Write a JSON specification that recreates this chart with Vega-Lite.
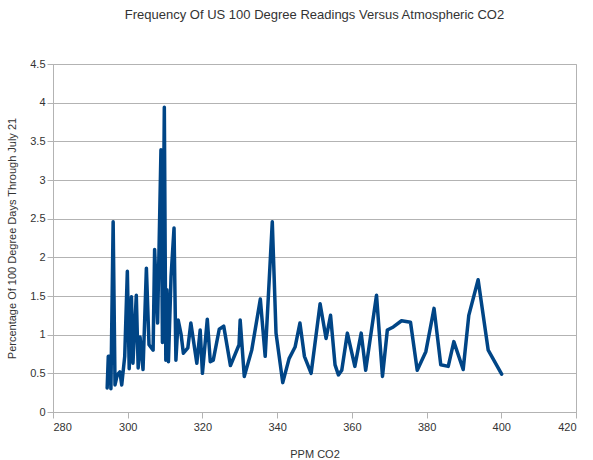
{
  "$schema": "https://vega.github.io/schema/vega-lite/v6.json",
  "autosize": {"type": "none"},
  "width": 523,
  "height": 348,
  "padding": {"left": 53, "top": 64, "right": 17, "bottom": 48},
  "background": "white",
  "title": {
    "text": "Frequency Of US 100 Degree Readings Versus Atmospheric CO2",
    "font": "Liberation Sans",
    "fontSize": 13,
    "fontWeight": "normal",
    "color": "#333333",
    "offset": 36
  },
  "config": {
    "view": {"stroke": "#b3b3b3", "strokeWidth": 1},
    "axis": {
      "labelFont": "Liberation Sans",
      "labelFontSize": 11,
      "labelColor": "#333333",
      "titleFont": "Liberation Sans",
      "titleFontSize": 11,
      "titleFontWeight": "normal",
      "titleColor": "#333333",
      "domainColor": "#b3b3b3",
      "tickColor": "#b3b3b3",
      "gridColor": "#b3b3b3",
      "tickSize": 6
    }
  },
  "data": {
    "values": [
      {"ppm": 294.5, "pct": 0.31},
      {"ppm": 294.8, "pct": 0.72},
      {"ppm": 295.3, "pct": 0.72},
      {"ppm": 295.5, "pct": 0.30},
      {"ppm": 296.1, "pct": 2.46},
      {"ppm": 296.6, "pct": 0.35},
      {"ppm": 297.2, "pct": 0.48},
      {"ppm": 297.9, "pct": 0.52},
      {"ppm": 298.4, "pct": 0.35},
      {"ppm": 299.2, "pct": 0.72},
      {"ppm": 299.9, "pct": 1.82},
      {"ppm": 300.4, "pct": 0.56},
      {"ppm": 301.0, "pct": 1.49},
      {"ppm": 301.4, "pct": 0.63},
      {"ppm": 302.3, "pct": 1.51},
      {"ppm": 302.8, "pct": 0.57},
      {"ppm": 303.3, "pct": 0.97},
      {"ppm": 304.1, "pct": 0.55},
      {"ppm": 305.0, "pct": 1.86},
      {"ppm": 305.7, "pct": 0.87},
      {"ppm": 306.8, "pct": 0.80},
      {"ppm": 307.2, "pct": 2.10},
      {"ppm": 308.0, "pct": 1.15},
      {"ppm": 308.9, "pct": 3.39},
      {"ppm": 309.3, "pct": 0.90},
      {"ppm": 309.8, "pct": 3.94},
      {"ppm": 310.2, "pct": 0.67},
      {"ppm": 310.5, "pct": 1.58},
      {"ppm": 310.9, "pct": 0.65},
      {"ppm": 311.6, "pct": 1.75},
      {"ppm": 312.4, "pct": 2.38},
      {"ppm": 312.9, "pct": 0.67},
      {"ppm": 313.5, "pct": 1.19},
      {"ppm": 314.3, "pct": 1.00},
      {"ppm": 314.9, "pct": 0.76},
      {"ppm": 316.1, "pct": 0.83},
      {"ppm": 316.9, "pct": 1.15},
      {"ppm": 318.5, "pct": 0.63},
      {"ppm": 319.4, "pct": 1.06},
      {"ppm": 320.0, "pct": 0.50},
      {"ppm": 321.3, "pct": 1.20},
      {"ppm": 322.1, "pct": 0.65},
      {"ppm": 322.9, "pct": 0.67},
      {"ppm": 324.5, "pct": 1.07},
      {"ppm": 325.7, "pct": 1.11},
      {"ppm": 327.5, "pct": 0.60},
      {"ppm": 329.8, "pct": 0.87},
      {"ppm": 330.1, "pct": 1.19},
      {"ppm": 331.2, "pct": 0.46},
      {"ppm": 333.2, "pct": 0.80},
      {"ppm": 335.5, "pct": 1.46},
      {"ppm": 336.8, "pct": 0.72},
      {"ppm": 338.7, "pct": 2.46},
      {"ppm": 339.7, "pct": 1.02},
      {"ppm": 341.5, "pct": 0.38},
      {"ppm": 343.2, "pct": 0.69},
      {"ppm": 344.8, "pct": 0.84},
      {"ppm": 346.1, "pct": 1.15},
      {"ppm": 347.3, "pct": 0.72},
      {"ppm": 349.1, "pct": 0.50},
      {"ppm": 351.5, "pct": 1.40},
      {"ppm": 353.1, "pct": 0.95},
      {"ppm": 354.3, "pct": 1.25},
      {"ppm": 355.5, "pct": 0.61},
      {"ppm": 356.4, "pct": 0.48},
      {"ppm": 357.3, "pct": 0.54},
      {"ppm": 358.8, "pct": 1.02},
      {"ppm": 360.8, "pct": 0.59},
      {"ppm": 362.5, "pct": 1.02},
      {"ppm": 363.7, "pct": 0.54},
      {"ppm": 366.6, "pct": 1.51},
      {"ppm": 368.2, "pct": 0.46},
      {"ppm": 369.5, "pct": 1.06},
      {"ppm": 371.1, "pct": 1.10},
      {"ppm": 373.3, "pct": 1.18},
      {"ppm": 375.7, "pct": 1.16},
      {"ppm": 377.5, "pct": 0.54},
      {"ppm": 379.8, "pct": 0.78},
      {"ppm": 382.0, "pct": 1.34},
      {"ppm": 383.8, "pct": 0.61},
      {"ppm": 385.8, "pct": 0.59},
      {"ppm": 387.3, "pct": 0.91},
      {"ppm": 389.8, "pct": 0.55},
      {"ppm": 391.3, "pct": 1.25},
      {"ppm": 393.8, "pct": 1.71},
      {"ppm": 396.5, "pct": 0.80},
      {"ppm": 400.1, "pct": 0.49}
    ]
  },
  "mark": {"type": "line", "color": "#004586", "strokeWidth": 3.5, "strokeJoin": "round", "strokeCap": "round"},
  "encoding": {
    "x": {
      "field": "ppm",
      "type": "quantitative",
      "scale": {"domain": [280, 420], "nice": false, "zero": false},
      "axis": {"title": "PPM CO2", "values": [280, 300, 320, 340, 360, 380, 400, 420], "grid": false, "labelPadding": 3, "titlePadding": 16}
    },
    "y": {
      "field": "pct",
      "type": "quantitative",
      "scale": {"domain": [0, 4.5], "nice": false},
      "axis": {"title": "Percentage Of 100 Degree Days Through July 21", "values": [0, 0.5, 1, 1.5, 2, 2.5, 3, 3.5, 4, 4.5], "format": "~g", "grid": true, "labelPadding": 2, "titlePadding": 12}
    }
  }
}
